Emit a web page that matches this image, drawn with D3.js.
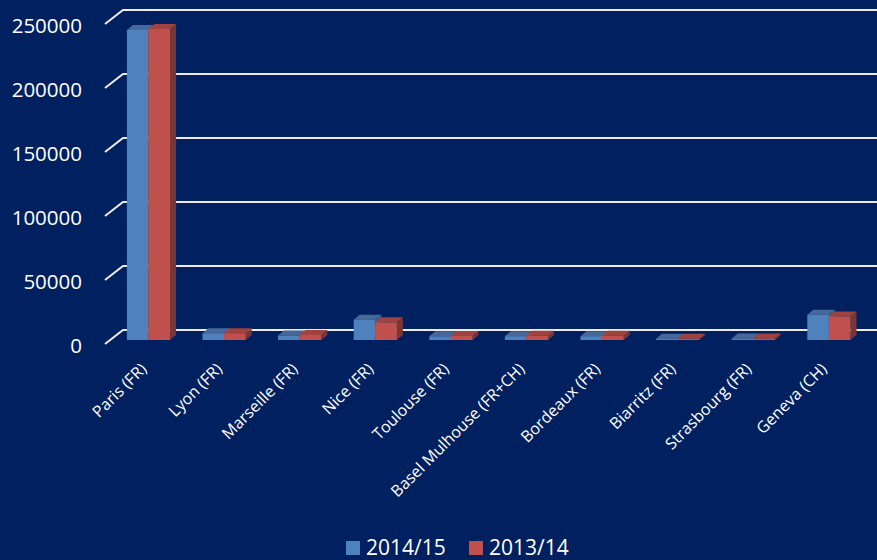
<!DOCTYPE html>
<html>
<head>
<meta charset="utf-8">
<script src="https://cdn.jsdelivr.net/npm/d3@7"></script>
<style>
  html, body { margin: 0; padding: 0; background: #002060; }
  svg { display: block; }
  text { font-family: "Open Sans", "Noto Sans", sans-serif; fill: #ffffff; }
</style>
</head>
<body>
<svg id="chart" width="877" height="560"></svg>
<script>
const categories = ["Paris (FR)", "Lyon (FR)", "Marseille (FR)", "Nice (FR)", "Toulouse (FR)",
  "Basel Mulhouse (FR+CH)", "Bordeaux (FR)", "Biarritz (FR)", "Strasbourg (FR)", "Geneva (CH)"];
const seriesNames = ["2014/15", "2013/14"];
const values2014_15 = [242200, 5300, 3500, 15900, 2900, 3000, 3000, 1000, 1200, 19800];
const values2013_14 = [243000, 5300, 4000, 13800, 3200, 3300, 3300, 900, 1200, 18400];
const yTickValues = [0, 50000, 100000, 150000, 200000, 250000];

const seriesColors = [
  { front: "#4F81BD", top: "#46699A", side: "#3B5D88" },
  { front: "#C0504D", top: "#A0423F", side: "#7E3431" }
];

const svg = d3.select("#chart");
const W = 877, H = 560;

// 3D projection offsets
const wallDepth = { dx: 18, dy: -14 };
const barPlane = { dx: 5.1, dy: -4 };
const barDepth = { dx: 6, dy: -5 };

const y = d3.scaleLinear().domain([0, 250000]).range([344, 24]);
const x = d3.scaleBand().domain(categories).range([105.6, 861.6]).paddingInner(0).paddingOuter(0);
const barW = x.bandwidth() / 3.5;

// Gridlines (side wall diagonal + back wall horizontal)
const grid = svg.append("g");
yTickValues.forEach(t => {
  const yf = y(t), yb = y(t) + wallDepth.dy;
  const xf = 105, xb = 105 + wallDepth.dx;
  grid.append("path")
    .attr("d", `M${xf},${yf}L${xb},${yb}L${W},${yb}`)
    .attr("fill", "none")
    .attr("stroke", "#EDEDED")
    .attr("stroke-width", 2);
});

// Y tick labels
svg.append("g").selectAll("text").data(yTickValues).join("text")
  .attr("x", 82)
  .attr("y", d => y(d) + 2)
  .attr("dy", "0.36em")
  .attr("text-anchor", "end")
  .attr("font-size", 20.5)
  .text(d => d);

// Bars
const data = categories.map((c, i) => ({ c, vals: [values2014_15[i], values2013_14[i]] }));
const barsG = svg.append("g");
data.forEach(d => {
  const start = x(d.c) + (x.bandwidth() - 2 * barW) / 2 + barPlane.dx;
  d.vals.forEach((v, s) => {
    const x0 = start + s * barW, x1 = x0 + barW;
    const yb = y(0) + barPlane.dy, yt = y(v) + barPlane.dy;
    const col = seriesColors[s];
    const g = barsG.append("g");
    // side face
    g.append("path")
      .attr("d", `M${x1},${yb}L${x1 + barDepth.dx},${yb + barDepth.dy}L${x1 + barDepth.dx},${yt + barDepth.dy}L${x1},${yt}Z`)
      .attr("fill", col.side);
    // top face
    g.append("path")
      .attr("d", `M${x0},${yt}L${x0 + barDepth.dx},${yt + barDepth.dy}L${x1 + barDepth.dx},${yt + barDepth.dy}L${x1},${yt}Z`)
      .attr("fill", col.top);
    // front face
    g.append("rect")
      .attr("x", x0).attr("y", yt)
      .attr("width", barW).attr("height", Math.max(0, yb - yt))
      .attr("fill", col.front);
  });
});

// Category labels
svg.append("g").selectAll("text").data(categories).join("text")
  .attr("transform", c => `translate(${x(c) + x.bandwidth() / 2 + barPlane.dx - 1},370) rotate(-45)`)
  .attr("text-anchor", "end")
  .attr("font-size", 16)
  .text(c => c);

// Legend
const legendX = [346, 469];
const legend = svg.append("g");
seriesNames.forEach((n, i) => {
  legend.append("rect")
    .attr("x", legendX[i]).attr("y", 541)
    .attr("width", 14).attr("height", 14)
    .attr("fill", seriesColors[i].front);
  legend.append("text")
    .attr("x", legendX[i] + 20).attr("y", 555)
    .attr("font-size", 21)
    .text(n);
});
</script>
</body>
</html>
